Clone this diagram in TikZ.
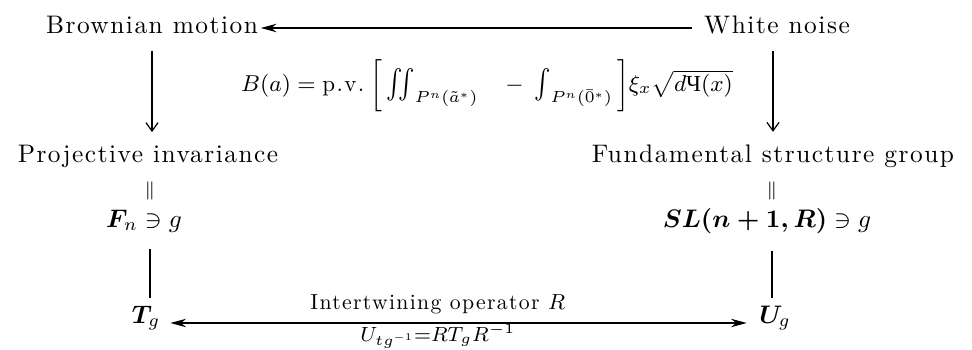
\documentclass[tikz,border=0pt]{standalone}
\usepackage{fix-cm}
\usepackage{amsmath}
\usepackage{fontspec}
\setmainfont{lmroman10-regular.otf}[BoldFont=lmroman10-bold.otf,ItalicFont=lmroman10-italic.otf,LetterSpace=6]
\newfontfamily\cyrfont{Liberation Serif}
\usetikzlibrary{arrows.meta}
\newcommand{\tallint}[1]{\mathop{\vcenter{\hbox{\scalebox{1.1}[1.35]{$#1$}}}}\nolimits}

\begin{document}
\begin{tikzpicture}[x=0.414pt,y=-0.414pt,
  lbl/.style={inner sep=1pt, anchor=base, font=\fontsize{10.5}{12}\selectfont},
  small/.style={inner sep=1pt, anchor=base, font=\fontsize{9}{11}\selectfont},
  eqs/.style={inner sep=0pt, font=\fontsize{7.5}{8}\selectfont},
  vlink/.style={line width=0.5pt, shorten <=6pt, shorten >=2pt},
  varr/.style={vlink, shorten >=4pt, -{Straight Barb[length=3.5pt,width=5pt]}},
  harr/.style={line width=0.5pt, -{Stealth[length=6.5pt,width=3.5pt]}}]
\useasboundingbox (0,0) rectangle (972,349);
% top row
\node[lbl] (brown) at (152,33) {Brownian motion};
\node[lbl] (white) at (777,33) {White noise};
\coordinate (toprow) at (0,28);
\draw[harr, shorten <=4pt] (white.west |- toprow) -- (brown.east |- toprow);
% formula between the columns
\node[small, font=\fontsize{9.5}{11}\selectfont] (bform) at (487,91) {$B(a) = \text{p.v.}\;\bigg[\tallint{\iint}_{P^n(\tilde{a}^*)}\quad - \;\tallint{\int}_{P^n(\bar{0}^*)}\bigg]\xi_x\sqrt{d\text{\cyrfont Ч}(x)}$};
% middle row
\node[lbl] (proj) at (148,162) {Projective invariance};
\node[lbl] (fund) at (773,162) {Fundamental structure group};
\draw[varr] (brown.south) -- (brown.south |- proj.north);
\draw[varr] (white.south -| fund.north) -- (fund.north);
\node[eqs] (eqL) at (150,191) {$\Vert$};
\node[eqs] (eqR) at (772,191) {$\Vert$};
\node[lbl] (fn) at (144,227) {$\boldsymbol{F}_{\!n}\ni g$};
\node[lbl] (sl) at (767,227) {$\boldsymbol{SL(n+1,R)}\ni g$};
% bottom row
\node[lbl] (tg) at (146,323) {$\boldsymbol{T}_{\!g}$};
\node[lbl] (ug) at (775,323) {$\boldsymbol{U}_{\!g}$};
\draw[vlink] (fn.south -| eqL) -- (tg.north -| eqL);
\draw[vlink] (sl.south -| eqR) -- (ug.north -| eqR);
\draw[harr, {Stealth[length=6.5pt,width=3.5pt]}-{Stealth[length=6.5pt,width=3.5pt]}, shorten <=3pt, shorten >=4pt] (tg.base east) --
  node[small, pos=0.463, yshift=5.4pt] {Intertwining operator $R$}
  node[small, pos=0.463, yshift=-7.5pt, font=\fontsize{8.5}{10}\selectfont] {$U_{tg^{-1}}{=}RT_gR^{-1}$} (ug.base west);
\end{tikzpicture}
\end{document}
